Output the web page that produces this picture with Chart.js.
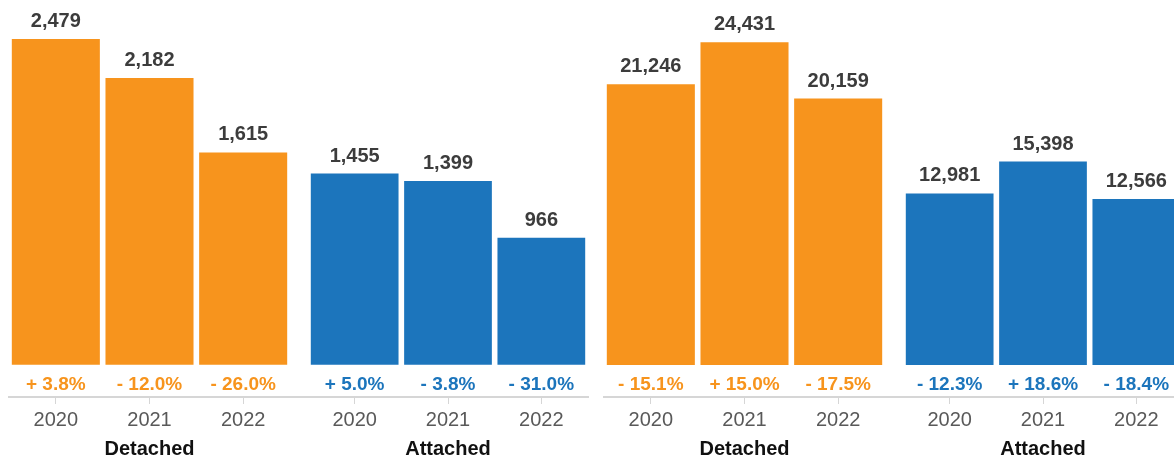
<!DOCTYPE html>
<html>
<head>
<meta charset="utf-8">
<script src="https://cdn.jsdelivr.net/npm/chart.js@4"></script>
<style>
  html, body { margin: 0; padding: 0; background: #fff; }
  body { width: 1174px; height: 461px; overflow: hidden; position: relative; }
  .panel { position: absolute; top: 0; width: 595px; height: 461px; }
  .panel canvas { position: absolute; top: 0; }
</style>
</head>
<body>
<div class="panel" style="left:0">
  <canvas id="c1" width="298" height="461" style="left:0"></canvas>
  <canvas id="c2" width="297" height="461" style="left:298px"></canvas>
</div>
<div class="panel" style="left:595px">
  <canvas id="c3" width="298" height="461" style="left:0"></canvas>
  <canvas id="c4" width="297" height="461" style="left:298px"></canvas>
</div>
<script>
  // tick labels
  const years = ['2020', '2021', '2022'];

  // left block
  const leftDetached = [2479, 2182, 1615];
  const leftDetachedChange = [3.8, -12.0, -26.0];
  const leftAttached = [1455, 1399, 966];
  const leftAttachedChange = [5.0, -3.8, -31.0];

  // right block
  const rightDetached = [21246, 24431, 20159];
  const rightDetachedChange = [-15.1, 15.0, -17.5];
  const rightAttached = [12981, 15398, 12566];
  const rightAttachedChange = [-12.3, 18.6, -18.4];

  const ORANGE = '#F7941D';
  const BLUE = '#1C75BC';
  const AXIS = '#d6d6d6';
  const FONT = "'Liberation Sans', Arial, Helvetica, sans-serif";

  function fmtChange(v) {
    return (v >= 0 ? '+ ' : '- ') + Math.abs(v).toFixed(1) + '%';
  }

  // value on top of each bar, change under it, and the axis line joined across the gap
  const barText = {
    id: 'barText',
    afterDatasetsDraw(chart, args, opts) {
      const ctx = chart.ctx;
      const meta = chart.getDatasetMeta(0);
      const ds = chart.data.datasets[0];
      ctx.save();
      ctx.textAlign = 'center';
      ctx.textBaseline = 'alphabetic';
      meta.data.forEach((bar, i) => {
        ctx.font = 'bold 20px ' + FONT;
        ctx.fillStyle = '#3c3c3c';
        ctx.fillText(ds.data[i].toLocaleString('en-US'), bar.x, bar.y - 12);
        ctx.font = 'bold 19px ' + FONT;
        ctx.fillStyle = ds.backgroundColor;
        ctx.fillText(fmtChange(opts.change[i]), bar.x, bar.base + 25);
      });
      const area = chart.chartArea;
      ctx.strokeStyle = AXIS;
      ctx.lineWidth = 2;
      ctx.beginPath();
      if (opts.join === 'right') {
        ctx.moveTo(area.right, area.bottom);
        ctx.lineTo(chart.width, area.bottom);
      } else {
        ctx.moveTo(0, area.bottom);
        ctx.lineTo(area.left, area.bottom);
      }
      ctx.stroke();
      ctx.restore();
    }
  };

  function makeChart(id, title, values, change, color, range, join, pad) {
    return new Chart(document.getElementById(id), {
      type: 'bar',
      data: {
        labels: years,
        datasets: [{
          data: values,
          backgroundColor: color,
          categoryPercentage: 0.94,
          barPercentage: 1
        }]
      },
      options: {
        responsive: false,
        animation: false,
        layout: { padding: { left: pad[0], right: pad[1], top: 0, bottom: 0 } },
        plugins: {
          legend: { display: false },
          tooltip: { enabled: false },
          barText: { change: change, join: join }
        },
        scales: {
          y: { display: false, min: range[0], max: range[1] },
          x: {
            offset: true,
            afterFit: s => { s.height = 64; },
            border: { display: true, color: AXIS, width: 2 },
            grid: {
              offset: false,
              drawOnChartArea: false,
              drawTicks: true,
              tickLength: 7,
              tickColor: AXIS,
              tickWidth: 1
            },
            ticks: {
              color: '#595959',
              padding: 4,
              font: { family: FONT, size: 20 }
            },
            title: {
              display: true,
              text: title,
              color: '#111',
              padding: { top: 0, bottom: 0 },
              font: { family: FONT, size: 20, weight: 'bold' }
            }
          }
        }
      },
      plugins: [barText]
    });
  }

  const leftRange = [-245, 2775];
  const rightRange = [-2420, 27620];

  makeChart('c1', 'Detached', leftDetached, leftDetachedChange, ORANGE, leftRange, 'right', [9, 8]);
  makeChart('c2', 'Attached', leftAttached, leftAttachedChange, BLUE, leftRange, 'left', [10, 7]);
  makeChart('c3', 'Detached', rightDetached, rightDetachedChange, ORANGE, rightRange, 'right', [9, 8]);
  makeChart('c4', 'Attached', rightAttached, rightAttachedChange, BLUE, rightRange, 'left', [10, 7]);
</script>
</body>
</html>
